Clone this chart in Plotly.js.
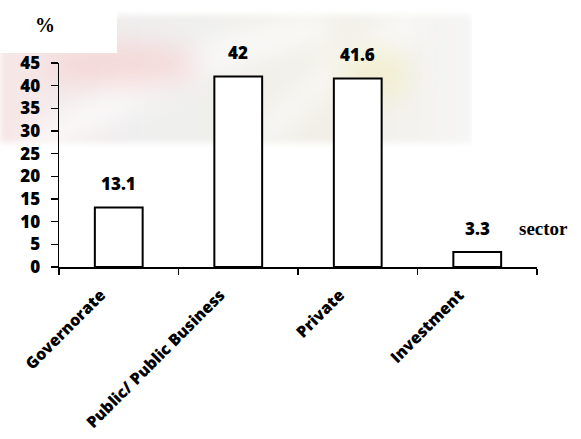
<!DOCTYPE html>
<html>
<head>
<meta charset="utf-8">
<script src="https://cdn.plot.ly/plotly-3.0.1.min.js"></script>
<style>html,body{margin:0;padding:0;background:#fff;}#chart{width:581px;height:439px;}</style>
</head>
<body>
<div id="chart"></div>
<script>
const categories = ["Governorate", "Public/ Public Business", "Private", "Investment"];
const values = [13.1, 42, 41.6, 3.3];
const valueLabels = ["13.1", "42", "41.6", "3.3"];
const yTicks = [0, 5, 10, 15, 20, 25, 30, 35, 40, 45];
const xAxisTitle = "sector";
const yAxisTitle = "%";

const wm = '<svg xmlns="http://www.w3.org/2000/svg" width="581" height="439">' +
  '<defs><filter id="b" x="-30%" y="-50%" width="160%" height="200%"><feGaussianBlur stdDeviation="14"/></filter>' +
  '<filter id="e" x="-5%" y="-10%" width="110%" height="120%"><feGaussianBlur stdDeviation="3"/></filter>' +
  '<linearGradient id="g" x1="0" y1="0" x2="1" y2="0">' +
  '<stop offset="0" stop-color="#f7e6e6"/><stop offset="0.3" stop-color="#efefef"/>' +
  '<stop offset="0.7" stop-color="#f1efe6"/><stop offset="1" stop-color="#f5f5f5"/></linearGradient></defs>' +
  '<rect x="0" y="15" width="472" height="128" fill="url(#g)" filter="url(#e)"/>' +
  '<g filter="url(#b)" opacity="0.8"><path d="M30 150 Q190 50 330 25" stroke="#ffffff" stroke-width="26" fill="none"/>' +
  '<path d="M260 140 Q330 60 420 20" stroke="#ffffff" stroke-width="18" fill="none"/>' +
  '<ellipse cx="120" cy="65" rx="80" ry="22" fill="#f6d3d3"/>' +
  '<ellipse cx="375" cy="75" rx="35" ry="28" fill="#f3eecb"/></g>' +
  '<rect x="0" y="0" width="117" height="53" fill="#ffffff"/><rect x="472" y="0" width="109" height="160" fill="#ffffff"/></svg>';

const trace = {
  type: "bar",
  x: categories,
  y: values,
  marker: { color: "#ffffff", line: { color: "#000000", width: 2 } },
  hoverinfo: "skip"
};

const labelFont = { family: "Open Sans", size: 17, color: "#000", weight: 800 };
const xLabelFont = { family: "Open Sans", size: 16, color: "#000", weight: 800 };

const annotations = categories.map((c, i) => ({
  x: c, y: values[i], xref: "x", yref: "y",
  text: valueLabels[i], showarrow: false,
  yshift: 24, font: labelFont
}));
annotations.push({
  xref: "paper", yref: "paper", x: 1.0, y: 0.19,
  xanchor: "left", yanchor: "middle", xshift: -20,
  text: xAxisTitle, showarrow: false,
  font: { family: "Liberation Serif", size: 19, color: "#000", weight: "bold" }
});
annotations.push({
  xref: "paper", yref: "paper", x: 0, y: 1, xshift: -14, yshift: 38,
  xanchor: "center", yanchor: "middle",
  text: yAxisTitle, showarrow: false,
  font: { family: "Liberation Serif", size: 20, color: "#000", weight: "bold" }
});

const layout = {
  width: 581, height: 439,
  margin: { l: 59, r: 44, t: 63, b: 172, pad: 0 },
  paper_bgcolor: "#ffffff", plot_bgcolor: "rgba(0,0,0,0)",
  showlegend: false,
  bargap: 0.6,
  images: [{
    source: "data:image/svg+xml;charset=utf-8," + encodeURIComponent(wm),
    xref: "paper", yref: "paper", x: -59/478, y: 1 + 63/204, sizex: 581/478, sizey: 439/204,
    xanchor: "left", yanchor: "top", sizing: "stretch", layer: "below"
  }],
  xaxis: {
    type: "category",
    showline: true, linecolor: "#000", linewidth: 1.5,
    ticks: "outside", tickson: "boundaries", ticklen: 6, tickwidth: 1.5, tickcolor: "#000",
    tickangle: -45, ticklabelstandoff: 11, ticklabelshift: -18,
    tickfont: xLabelFont,
    showgrid: false, zeroline: false
  },
  yaxis: {
    range: [0, 45], tickvals: yTicks, ticktext: yTicks.map(String),
    showline: true, linecolor: "#000", linewidth: 1.5,
    ticks: "outside", ticklen: 7, tickwidth: 1.5, tickcolor: "#000",
    tickfont: labelFont, ticklabelstandoff: 7,
    showgrid: false, zeroline: false
  },
  annotations: annotations
};

Plotly.newPlot("chart", [trace], layout, { staticPlot: true, displayModeBar: false });
</script>
</body>
</html>
